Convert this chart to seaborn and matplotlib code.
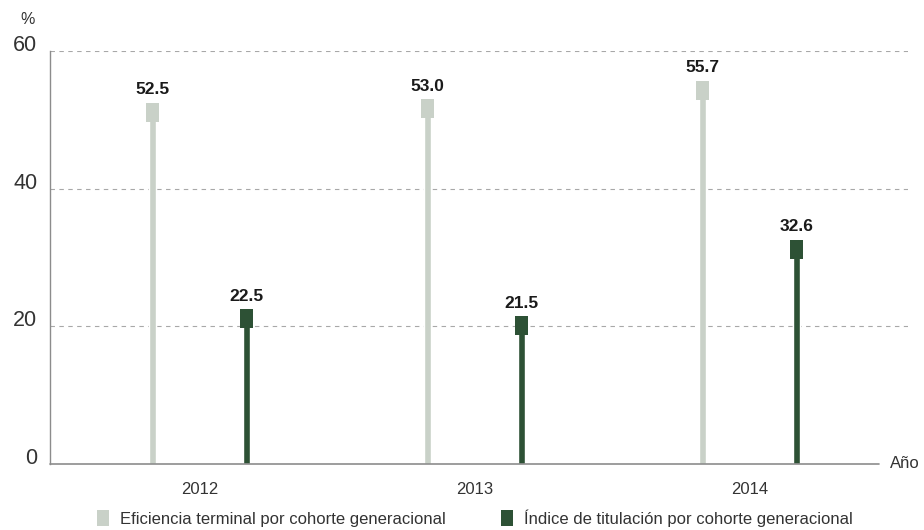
import pandas as pd
import numpy as np
import matplotlib.pyplot as plt
from matplotlib.patches import Rectangle, Patch
import seaborn as sns

anios = ['2012', '2013', '2014']
eficiencia = [52.5, 53.0, 55.7]
titulacion = [22.5, 21.5, 32.6]
series = ['Eficiencia terminal por cohorte generacional',
          'Índice de titulación por cohorte generacional']
colores = ['#c9d1c8', '#2d5135']

datos = pd.DataFrame({
    'anio': anios * 2,
    'valor': eficiencia + titulacion,
    'serie': [series[0]] * 3 + [series[1]] * 3,
})

sns.set_style('white')
plt.rcParams['font.family'] = ['Liberation Sans', 'DejaVu Sans']

fig = plt.figure(figsize=(9.24, 5.30), dpi=100)
ax = fig.add_axes([50 / 924, 66 / 530, 858 / 924, 413 / 530])

sns.barplot(data=datos, x='anio', y='valor', hue='serie', palette=colores,
            width=0.684, gap=0.925, dodge=True, legend=False, ax=ax,
            saturation=1, err_kws={'linewidth': 0})

# tapas cuadradas y etiquetas
for p in list(ax.patches):
    h = p.get_height()
    if np.isnan(h) or h == 0:
        continue
    cx = p.get_x() + p.get_width() / 2
    cw = 0.047
    ax.add_patch(Rectangle((cx - cw / 2, h - 2.75), cw, 2.75,
                           facecolor=p.get_facecolor(), edgecolor='none', zorder=3))
    ax.text(cx, h + 0.8, f'{h:.1f}', ha='center', va='bottom',
            fontsize=12.5, fontweight='bold', color='#1a1a1a')

ax.set_xlim(-0.545, 2.575)
ax.set_ylim(0, 60)
ax.set_yticks([0, 20, 40, 60])
for y in [20, 40, 60]:
    ax.axhline(y, color='#a8a8a8', linewidth=0.8, linestyle=(0, (4, 4)), zorder=0)
ax.axhline(0, xmin=0, xmax=(2.47 + 0.545) / (2.575 + 0.545), color='#8c8c8c',
           linewidth=1.2, zorder=4, clip_on=False)

for s in ['top', 'right', 'bottom']:
    ax.spines[s].set_visible(False)
ax.spines['left'].set_color('#8c8c8c')
ax.spines['left'].set_linewidth(1.0)

ax.tick_params(axis='y', length=0, pad=9, labelsize=15.5, labelcolor='#333333')
ax.tick_params(axis='x', length=0, pad=13, labelsize=12, labelcolor='#333333')
for lbl in ax.get_yticklabels():
    lbl.set_verticalalignment('baseline')
ax.set_xlabel('')
ax.set_ylabel('')

fig.text(28 / 924, 1 - 20 / 530, '%', ha='center', va='center', fontsize=11.5, color='#333333')
ax.text(2.51, 0, 'Año', ha='left', va='center', fontsize=12, color='#333333')

handles = [Patch(facecolor=c, edgecolor='none') for c in colores]
fig.legend(handles, series, loc='center left', bbox_to_anchor=(82 / 924, 1 - 518 / 530),
           ncol=2, frameon=False, fontsize=12, handlelength=0.72, handleheight=1.15,
           handletextpad=0.65, columnspacing=3.35, labelcolor='#333333')

fig.savefig('out.png', dpi=100)
